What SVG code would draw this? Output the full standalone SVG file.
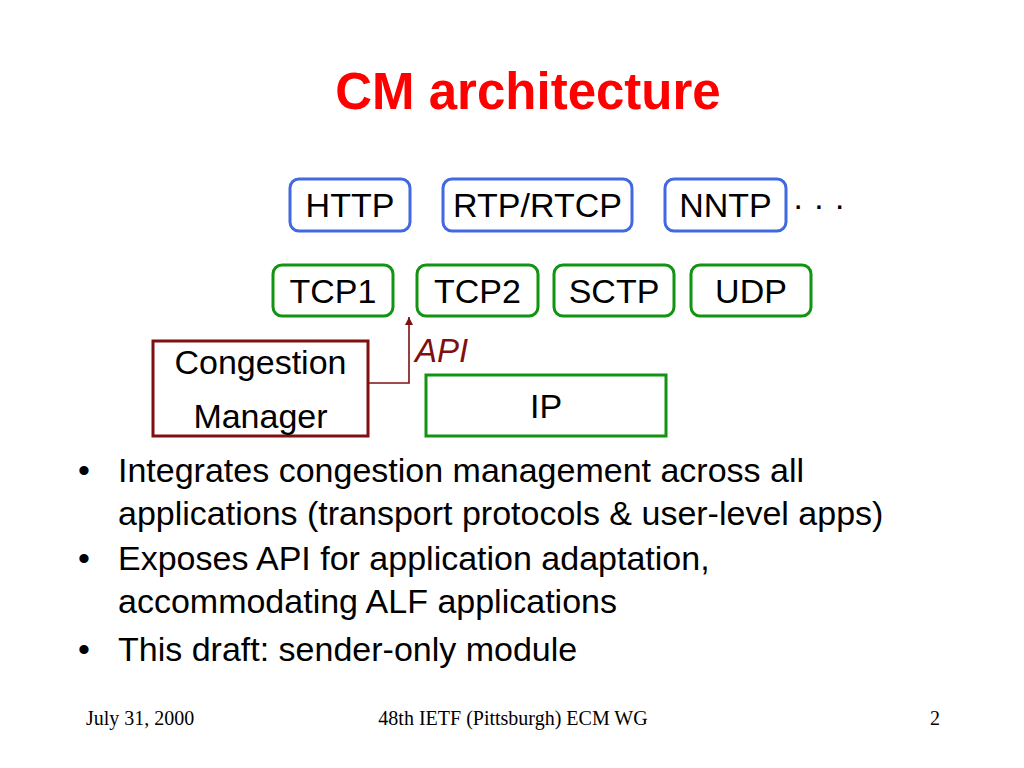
<svg xmlns="http://www.w3.org/2000/svg" width="1024" height="768" viewBox="0 0 1024 768">
<style>
  .lbl { font-family: "Liberation Sans", Arial, sans-serif; font-size: 34px; fill: #000; text-anchor: middle; }
  .app { fill: #fff; stroke: #4169E1; stroke-width: 3; }
  .tr { fill: #fff; stroke: #129412; stroke-width: 3; }
  .cm { fill: #fff; stroke: #7F1010; stroke-width: 3; }
  .bul { font-family: "Liberation Sans", Arial, sans-serif; font-size: 34px; fill: #000; }
  .foot { font-family: "Liberation Serif", "Times New Roman", serif; font-size: 20px; fill: #000; }
  .conn { fill: none; stroke: #7F1010; stroke-width: 1.6; }
</style>
<defs>
  <marker id="arr" viewBox="0 0 10 10" refX="10" refY="5" markerWidth="5" markerHeight="5" orient="auto" markerUnits="strokeWidth">
    <path d="M0,0 L10,5 L0,10 z" fill="#7F1010"/>
  </marker>
</defs>
<rect width="1024" height="768" fill="#fff"/>
<text id="title" x="528" y="109" font-family="'Liberation Sans', Arial, sans-serif" font-weight="bold" font-size="51" fill="#FF0000" text-anchor="middle">CM architecture</text>

<g id="http"><rect class="app" x="290" y="179" width="120" height="52" rx="9"/><text class="lbl" x="350" y="217">HTTP</text></g>
<g id="rtp"><rect class="app" x="443" y="179" width="189" height="52" rx="9"/><text class="lbl" x="537.5" y="217">RTP/RTCP</text></g>
<g id="nntp"><rect class="app" x="665" y="179" width="121" height="52" rx="9"/><text class="lbl" x="725.5" y="217">NNTP</text></g>
<g id="dots"><text class="lbl" x="819" y="216" font-size="30">· · ·</text></g>

<g id="tcp1"><rect class="tr" x="273" y="265" width="120" height="51" rx="9"/><text class="lbl" x="333" y="303">TCP1</text></g>
<g id="tcp2"><rect class="tr" x="417" y="265" width="121" height="51" rx="9"/><text class="lbl" x="477.5" y="303">TCP2</text></g>
<g id="sctp"><rect class="tr" x="554" y="265" width="120" height="51" rx="9"/><text class="lbl" x="614" y="303">SCTP</text></g>
<g id="udp"><rect class="tr" x="691" y="265" width="120" height="51" rx="9"/><text class="lbl" x="751" y="303">UDP</text></g>

<g id="cm"><rect class="cm" x="153" y="341" width="215" height="95"/><text class="lbl" x="260.5" y="374" font-size="37">Congestion</text><text class="lbl" x="260.5" y="428" font-size="37">Manager</text></g>
<g id="ip"><rect class="tr" x="426" y="375" width="240" height="61"/><text class="lbl" x="546" y="418" font-size="35">IP</text></g>

<g id="connectors">
  <path class="conn" d="M368,383 L409,383 L409,317" marker-end="url(#arr)"/>
  <text x="415" y="362" font-family="'Liberation Sans', Arial, sans-serif" font-style="italic" font-size="33" fill="#7F1010">API</text>
</g>

<g id="bullets">
  <text class="bul" x="78" y="482">•</text>
  <text class="bul" x="118" y="482">Integrates congestion management across all</text>
  <text class="bul" x="118" y="525">applications (transport protocols &amp; user-level apps)</text>
  <text class="bul" x="78" y="570">•</text>
  <text class="bul" x="118" y="570">Exposes API for application adaptation,</text>
  <text class="bul" x="118" y="613">accommodating ALF applications</text>
  <text class="bul" x="78" y="661">•</text>
  <text class="bul" x="118" y="661">This draft: sender-only module</text>
</g>

<g id="footer">
  <text class="foot" x="86" y="725">July 31, 2000</text>
  <text class="foot" x="513" y="725" text-anchor="middle">48th IETF (Pittsburgh) ECM WG</text>
  <text class="foot" x="940" y="725" text-anchor="end">2</text>
</g>
</svg>
